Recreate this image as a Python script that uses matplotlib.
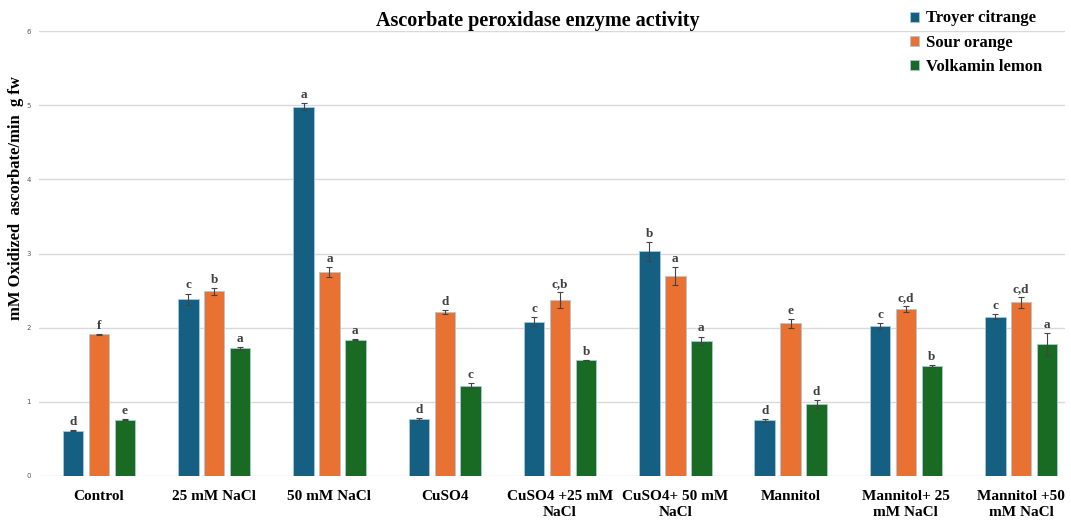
import numpy as np
import matplotlib.pyplot as plt

treatments = ['Control', '25 mM NaCl', '50 mM NaCl', 'CuSO4', 'CuSO4 +25 mM\nNaCl',
              'CuSO4+ 50 mM\nNaCl', 'Mannitol', 'Mannitol+ 25\nmM NaCl', 'Mannitol +50\nmM NaCl']
cultivars = ['Troyer citrange', 'Sour orange', 'Volkamin lemon']

troyer = [0.61, 2.38, 4.98, 0.77, 2.08, 3.03, 0.75, 2.02, 2.15]
sour = [1.91, 2.49, 2.75, 2.21, 2.37, 2.70, 2.06, 2.25, 2.34]
volkamin = [0.76, 1.72, 1.84, 1.22, 1.56, 1.82, 0.97, 1.48, 1.78]

troyer_err = [0.01, 0.08, 0.05, 0.01, 0.06, 0.13, 0.02, 0.04, 0.03]
sour_err = [0.01, 0.05, 0.07, 0.03, 0.11, 0.12, 0.06, 0.04, 0.07]
volkamin_err = [0.01, 0.02, 0.01, 0.03, 0.0, 0.06, 0.05, 0.01, 0.15]

troyer_sig = ['d', 'c', 'a', 'd', 'c', 'b', 'd', 'c', 'c']
sour_sig = ['f', 'b', 'a', 'd', 'c,b', 'a', 'e', 'c,d', 'c,d']
volkamin_sig = ['e', 'a', 'a', 'c', 'b', 'a', 'd', 'b', 'a']

colors = ['#156082', '#E97132', '#196B24']
serif = 'Liberation Serif'

fig = plt.figure(figsize=(10.71, 5.21), dpi=100)
ax = fig.add_axes([0.0364, 0.0864, 0.958, 0.854])

x = np.arange(len(treatments))
step = 0.225
width = 0.178
series = [(troyer, troyer_err, troyer_sig), (sour, sour_err, sour_sig),
          (volkamin, volkamin_err, volkamin_sig)]

for i, (vals, errs, sig) in enumerate(series):
    pos = x + (i - 1) * step
    ax.bar(pos, vals, width, color=colors[i], edgecolor='#a9c9dc', linewidth=0.6,
           label=cultivars[i], zorder=3)
    ax.errorbar(pos, vals, yerr=errs, fmt='none', ecolor='#444444', elinewidth=0.8,
                capsize=2.5, capthick=0.8, zorder=4)
    for p, v, e, s in zip(pos, vals, errs, sig):
        ax.annotate(s, (p, v + e), xytext=(0, 1.5), textcoords='offset points',
                    ha='center', va='bottom', fontsize=9.5, fontweight='bold',
                    family=serif, color='#404040')

ax.set_ylim(0, 6)
ax.set_xlim(-0.52, 8.38)
ax.set_yticks(range(7))
ax.yaxis.grid(True, color='#d9d9d9', linewidth=1, zorder=0)
ax.set_xticks(x)
ax.set_xticklabels(treatments, fontsize=11, fontweight='bold', family=serif,
                   linespacing=1.3)
ax.tick_params(axis='y', labelsize=5, colors='#595959', length=0, pad=6)
ax.tick_params(axis='x', length=0, pad=10)
for s in ax.spines.values():
    s.set_visible(False)

ax.set_ylabel('mM Oxidized  ascorbate/min  g fw', fontsize=12, fontweight='bold',
              family=serif)
ax.yaxis.set_label_coords(-0.0145, 0.625)
fig.text(0.502, 0.96, 'Ascorbate peroxidase enzyme activity', ha='center', va='center',
         fontsize=14.5, fontweight='bold', family=serif)

ax.legend(loc='upper left', bbox_to_anchor=(0.834, 1.08), frameon=False,
          prop={'family': serif, 'weight': 'bold', 'size': 12},
          handlelength=0.55, handleheight=0.55, handletextpad=0.4, labelspacing=0.5)

fig.savefig('out.png', dpi=100)
